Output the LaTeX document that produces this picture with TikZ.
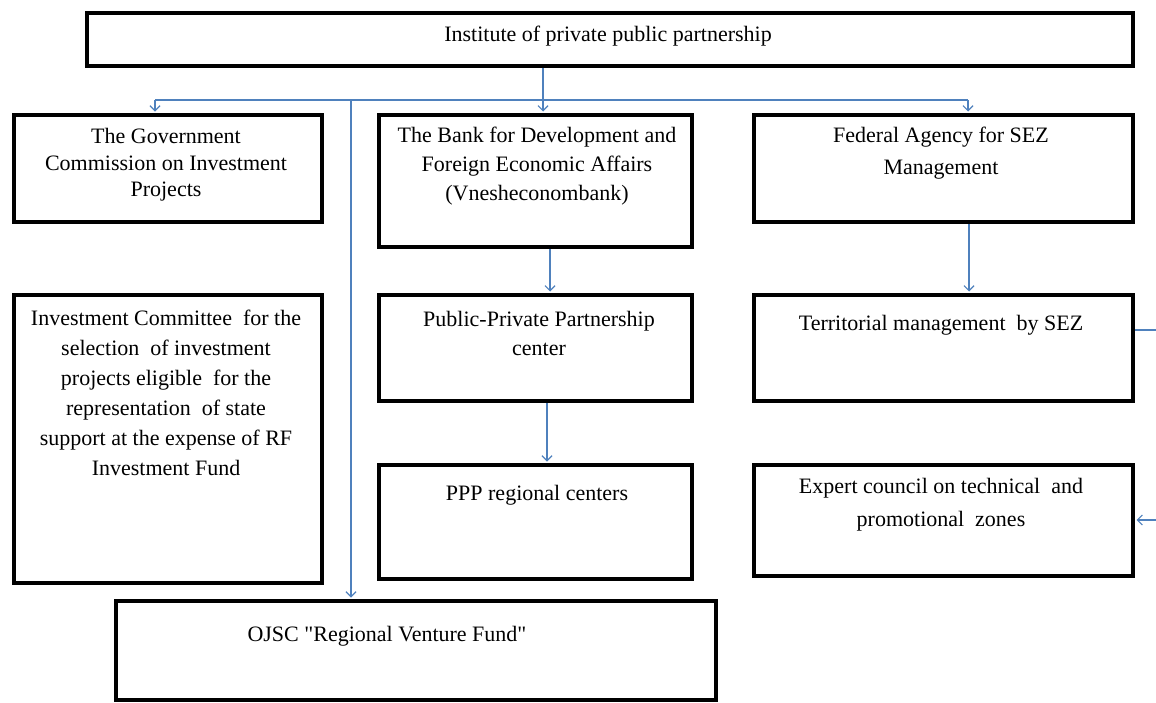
\documentclass[tikz,border=0pt]{standalone}
\usepackage{fontspec}
\setmainfont{Liberation Serif}
\usetikzlibrary{arrows.meta,calc}
\definecolor{conn}{RGB}{79,129,189}
\tikzset{
  orgbox/.style={draw=black, line width=4pt, inner sep=0pt, anchor=north west},
  txt/.style={anchor=north, align=center, inner sep=0pt, font=\fontsize{22}{27}\selectfont},
  link/.style={draw=conn, line width=1.5pt},
  arr/.style={link, -{Straight Barb[length=5pt,width=10pt,line width=1.2pt]}, shorten >=1.5pt}
}
\begin{document}
\begin{tikzpicture}[x=1pt,y=-1pt]
\useasboundingbox (0,0) rectangle (1156,702);
\fill[white] (0,0) rectangle (1156,702);
% boxes
\node[orgbox, minimum width=1046pt, minimum height=53pt] (top) at (85,11) {};
\node[orgbox, minimum width=308pt, minimum height=107pt] (gov) at (12,113) {};
\node[orgbox, minimum width=313pt, minimum height=132pt] (bank) at (377,113) {};
\node[orgbox, minimum width=379pt, minimum height=107pt] (fed) at (752,113) {};
\node[orgbox, minimum width=308pt, minimum height=288pt] (inv) at (12,293) {};
\node[orgbox, minimum width=313pt, minimum height=106pt] (pppc) at (377,293) {};
\node[orgbox, minimum width=379pt, minimum height=106pt] (terr) at (752,293) {};
\node[orgbox, minimum width=313pt, minimum height=114pt] (reg) at (377,463) {};
\node[orgbox, minimum width=379pt, minimum height=111pt] (exp) at (752,463) {};
\node[orgbox, minimum width=600pt, minimum height=99pt] (ojsc) at (114,599) {};
% texts
\node[txt] (ttop) at (608,26) {Institute of private public partnership};
\node[txt, font=\fontsize{22}{26.7}\selectfont] (tgov) at (166,128) {The Government\\Commission on Investment\\Projects};
\node[txt, font=\fontsize{22}{29}\selectfont] (tbank) at (537,127) {The Bank for Development and\\Foreign Economic Affairs\\(Vnesheconombank)};
\node[txt, font=\fontsize{22}{32}\selectfont] (tfed) at (941,127) {Federal Agency for SEZ\\Management};
\node[txt, font=\fontsize{22}{30}\selectfont] (tinv) at (166,310) {Investment Committee\ \ for the\\selection\ \ of investment\\projects eligible\ \ for the\\representation\ \ of state\\support at the expense of RF\\Investment Fund};
\node[txt, font=\fontsize{22}{29}\selectfont] (tpppc) at (539,311) {Public-Private Partnership\\center};
\node[txt] (tterr) at (941,315) {Territorial management\ \ by SEZ};
\node[txt] (treg) at (537,485) {PPP regional centers};
\node[txt, font=\fontsize{22}{33}\selectfont] (texp) at (941,478) {Expert council on technical\ \ and\\promotional\ \ zones};
\node[txt] (tojsc) at (387,626) {OJSC \textquotedbl Regional Venture Fund\textquotedbl};
% connectors
\coordinate (j) at (543,100);
\coordinate (hl) at (155,100);
\coordinate (hr) at (968,100);
\coordinate (v) at (351,100);
\draw[link] (top.south -| j) -- (j);
\draw[link] (hl) -- (hr);
\draw[arr] (hl) -- (hl |- gov.north);
\draw[arr] (j) -- (j |- bank.north);
\draw[arr] (hr) -- (hr |- fed.north);
\draw[arr] (v) -- (v |- ojsc.north);
\path (bank.south) ++(14.5,0) coordinate (b1);
\draw[arr] (b1) -- (b1 |- pppc.north);
\path (pppc.south) ++(11.5,0) coordinate (b2);
\draw[arr] (b2) -- (b2 |- reg.north);
\path (fed.south) ++(25.5,0) coordinate (b3);
\draw[arr] (b3) -- (b3 |- terr.north);
\coordinate (r1) at (1156,330);
\draw[link] (r1 -| terr.east) -- (r1);
\coordinate (r2) at (1156,520);
\draw[arr] (r2) -- (r2 -| exp.east);
\end{tikzpicture}
\end{document}
